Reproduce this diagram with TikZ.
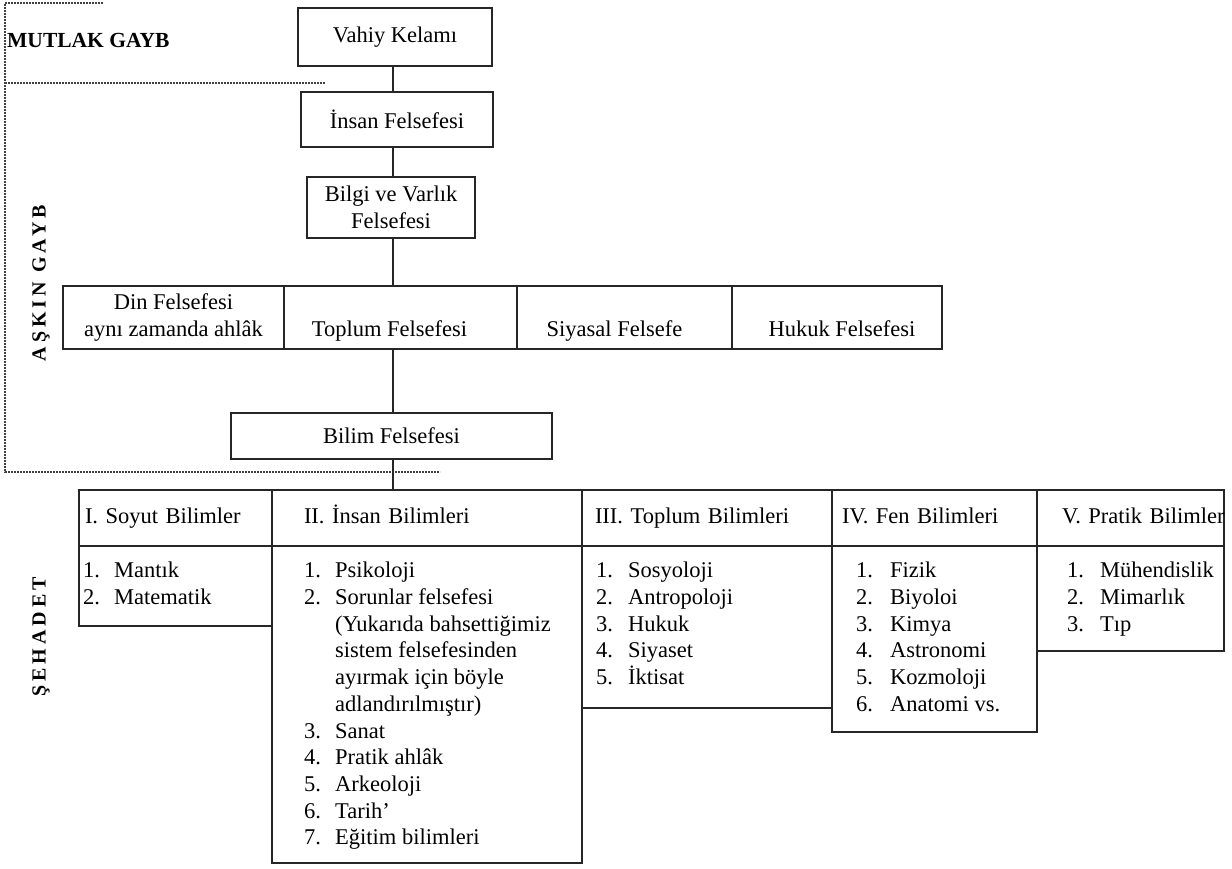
\documentclass[tikz,border=0pt]{standalone}
\usepackage{fontspec}
\setmainfont{Liberation Serif}
\newfontfamily\zonefont[LetterSpace=20]{Liberation Serif}
\usetikzlibrary{positioning}
\newcommand{\bodyfont}{\fontsize{22.5}{26.7}\selectfont}
\newcommand{\itm}[3][31pt]{\mbox{\makebox[#1][l]{#2}#3}}
\tikzset{
  box/.style={draw=black!85, line width=1.1pt, inner sep=0pt, outer sep=0pt},
  cellrow/.style={box, minimum height=63, align=center},
  head/.style 2 args={box, anchor=north west, minimum height=56, text width=#1, inner xsep=#2, align=left},
  listbox/.style={box},
  items/.style={anchor=north west, inner sep=0pt, align=left},
  link/.style={draw=black!85, line width=1.1pt},
  zone/.style={densely dotted, line width=2pt, black!75},
  zonelabel/.style={font=\zonefont\bfseries\fontsize{20}{20}\selectfont, inner sep=0pt}
}
\begin{document}
\begin{tikzpicture}[x=1pt, y=-1pt, font=\bodyfont]
\useasboundingbox (0,0) rectangle (1232,868);

% gayb / sehadet zones
\draw[zone] (103,3) -- (5,3) -- (5,472) -- (440,472);
\draw[zone] (5,83) -- (325,83);
\node[zonelabel, font=\bfseries\fontsize{21.5}{21.5}\selectfont, anchor=west] (mutlak) at (7,40) {MUTLAK GAYB};
\node[zonelabel, rotate=90] (askin) at (41,283) {AŞKIN GAYB};
\node[zonelabel, rotate=90] (sehadet) at (41,637) {ŞEHADET};

% felsefe
\node[box, minimum width=194, minimum height=58] (vahiy) at (395,37) {Vahiy Kelamı};
\node[box, minimum width=192, minimum height=55] (insanf) at (397,119.5) {İnsan Felsefesi};
\node[box, minimum width=168, minimum height=61, align=center] (bilgi) at (391,207.5) {Bilgi ve Varlık\\Felsefesi};

\node[cellrow, minimum width=221, anchor=north west] (din) at (63,286) {\strut Din Felsefesi\\\strut aynı zamanda ahlâk};
\node[cellrow, minimum width=233, right=0pt of din] (toplumf) {\strut\\\strut Toplum Felsefesi\hspace*{22pt}};
\node[cellrow, minimum width=215, right=0pt of toplumf] (siyasal) {\strut\\\strut Siyasal Felsefe\hspace*{20pt}};
\node[cellrow, minimum width=210, right=0pt of siyasal] (hukuk) {\strut\\\strut\hspace*{10pt}Hukuk Felsefesi};

\node[box, minimum width=321, minimum height=46] (bilim) at (391.5,436) {Bilim Felsefesi};

% bilimler
\node[head={181}{6}] (soyut) at (79,490) {\mbox{\strut I. Soyut Bilimler}};
\node[head={246}{32}, right=0pt of soyut] (insanb) {\mbox{\strut II. İnsan Bilimleri}};
\node[head={224}{13}, right=0pt of insanb] (toplumb) {\mbox{\strut III. Toplum Bilimleri}};
\node[head={185}{10}, right=0pt of toplumb] (fen) {\mbox{\strut IV. Fen Bilimleri}};
\node[head={137}{25}, right=0pt of fen] (pratik) {\mbox{\strut V. Pratik Bilimler}};

\node[listbox, minimum width=193, minimum height=80, below=0pt of soyut] (soyutl) {};
\node[listbox, minimum width=310, minimum height=317, below=0pt of insanb] (insanbl) {};
\node[listbox, minimum width=250, minimum height=162, below=0pt of toplumb] (toplumbl) {};
\node[listbox, minimum width=205, minimum height=186, below=0pt of fen] (fenl) {};
\node[listbox, minimum width=187, minimum height=105, below=0pt of pratik] (pratikl) {};

\node[items] (soyutt) at ([shift={(4,16)}]soyutl.north west)
  {\itm{1.}{Mantık}\\ \itm{2.}{Matematik}};
\node[items] (insanbt) at ([shift={(32,16)}]insanbl.north west)
  {\itm{1.}{Psikoloji}\\ \itm{2.}{Sorunlar felsefesi}\\ \itm{}{(Yukarıda bahsettiğimiz}\\
   \itm{}{sistem felsefesinden}\\ \itm{}{ayırmak için böyle}\\ \itm{}{adlandırılmıştır)}\\
   \itm{3.}{Sanat}\\ \itm{4.}{Pratik ahlâk}\\ \itm{5.}{Arkeoloji}\\ \itm{6.}{Tarih'}\\
   \itm{7.}{Eğitim bilimleri}};
\node[items] (toplumbt) at ([shift={(14,16)}]toplumbl.north west)
  {\itm[32pt]{1.}{Sosyoloji}\\ \itm[32pt]{2.}{Antropoloji}\\ \itm[32pt]{3.}{Hukuk}\\
   \itm[32pt]{4.}{Siyaset}\\ \itm[32pt]{5.}{İktisat}};
\node[items] (fent) at ([shift={(24,16)}]fenl.north west)
  {\itm[34pt]{1.}{Fizik}\\ \itm[34pt]{2.}{Biyoloi}\\ \itm[34pt]{3.}{Kimya}\\
   \itm[34pt]{4.}{Astronomi}\\ \itm[34pt]{5.}{Kozmoloji}\\ \itm[34pt]{6.}{Anatomi vs.}};
\node[items] (pratikt) at ([shift={(30,16)}]pratikl.north west)
  {\itm[33pt]{1.}{Mühendislik}\\ \itm[33pt]{2.}{Mimarlık}\\ \itm[33pt]{3.}{Tıp}};

% connectors
\coordinate (spine) at (393,0);
\draw[link] (vahiy.south -| spine) -- (insanf.north -| spine);
\draw[link] (insanf.south -| spine) -- (bilgi.north -| spine);
\draw[link] (bilgi.south -| spine) -- (toplumf.north -| spine);
\draw[link] (toplumf.south -| spine) -- (bilim.north -| spine);
\draw[link] (bilim.south -| spine) -- (insanb.north -| spine);
\end{tikzpicture}
\end{document}
